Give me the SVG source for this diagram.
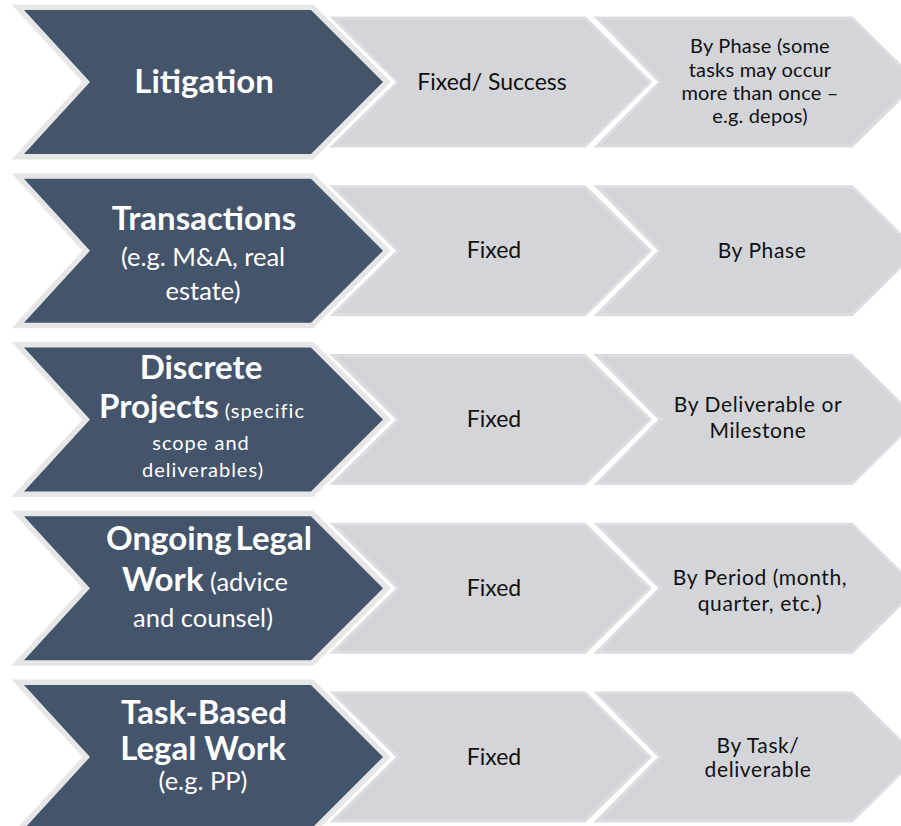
<svg xmlns="http://www.w3.org/2000/svg" width="901" height="826" viewBox="0 0 901 826">
  <style>
    .head { fill: #44546a; stroke: #e6e6e6; stroke-width: 11; paint-order: stroke; stroke-linejoin: miter; }
    .cell { fill: #d4d5d9; stroke: #dcdde0; stroke-width: 3; }
    .t { font-family: Lato, "Open Sans", "Liberation Sans", sans-serif; text-anchor: middle; }
    .w { fill: #ffffff; }
    .k { fill: #111111; }
    .b { font-weight: 700; font-size: 33px; }
    .r { font-size: 25.5px; }
    .m { font-size: 23px; }
    .s { font-size: 21px; letter-spacing: 0.6px; }
    .s1 { font-size: 20px; letter-spacing: 0.2px; }
    .n { font-size: 20px; letter-spacing: 1px; }
  </style>
  <defs>
    <!-- chevron outlines, one row high; rows are shifted with translate -->
    <polygon id="head-shape" points="24,10 311,10 383,82 311,154 24,154 90,82"/>
    <polygon id="mid-shape" points="333,18 585,18 650,82 585,146 333,146 398,82"/>
    <polygon id="end-shape" points="597,18 852,18 917,82 852,146 597,146 660,82"/>
  </defs>
  <rect width="901" height="826" fill="#ffffff"/>

  <!-- Row 1 -->
  <g id="row1">
    <g id="r1-end"><use href="#end-shape" class="cell"/>
      <text class="t k s1"><tspan x="760" y="53">By Phase (some</tspan><tspan x="760" y="77">tasks may occur</tspan><tspan x="760" y="100">more than once –</tspan><tspan x="760" y="123">e.g. depos)</tspan></text></g>
    <g id="r1-mid"><use href="#mid-shape" class="cell"/>
      <text class="t k m" x="492" y="90">Fixed/ Success</text></g>
    <g id="r1-head"><use href="#head-shape" class="head"/>
      <text class="t w b" x="204" y="93">Litigation</text></g>
  </g>

  <!-- Row 2 -->
  <g id="row2">
    <g id="r2-end"><use href="#end-shape" class="cell" transform="translate(0,168.75)"/>
      <text class="t k s" x="762" y="258">By Phase</text></g>
    <g id="r2-mid"><use href="#mid-shape" class="cell" transform="translate(0,168.75)"/>
      <text class="t k m" x="494" y="258">Fixed</text></g>
    <g id="r2-head"><use href="#head-shape" class="head" transform="translate(0,168.75)"/>
      <text class="t w"><tspan class="b" x="204" y="230">Transactions</tspan><tspan class="r" x="203" y="266">(e.g. M&amp;A, real</tspan><tspan class="r" x="203" y="300">estate)</tspan></text></g>
  </g>

  <!-- Row 3 -->
  <g id="row3">
    <g id="r3-end"><use href="#end-shape" class="cell" transform="translate(0,337.5)"/>
      <text class="t k s"><tspan x="758" y="412">By Deliverable or</tspan><tspan x="758" y="438">Milestone</tspan></text></g>
    <g id="r3-mid"><use href="#mid-shape" class="cell" transform="translate(0,337.5)"/>
      <text class="t k m" x="494" y="427">Fixed</text></g>
    <g id="r3-head"><use href="#head-shape" class="head" transform="translate(0,337.5)"/>
      <text class="t w"><tspan class="b" x="201" y="379">Discrete</tspan><tspan x="202" y="418"><tspan class="b">Projects</tspan><tspan class="n"> (specific</tspan></tspan><tspan class="n" x="201" y="450">scope and</tspan><tspan class="n" x="203" y="477">deliverables)</tspan></text></g>
  </g>

  <!-- Row 4 -->
  <g id="row4">
    <g id="r4-end"><use href="#end-shape" class="cell" transform="translate(0,506.25)"/>
      <text class="t k s"><tspan x="760" y="585">By Period (month,</tspan><tspan x="760" y="611">quarter, etc.)</tspan></text></g>
    <g id="r4-mid"><use href="#mid-shape" class="cell" transform="translate(0,506.25)"/>
      <text class="t k m" x="494" y="596">Fixed</text></g>
    <g id="r4-head"><use href="#head-shape" class="head" transform="translate(0,506.25)"/>
      <text class="t w"><tspan class="b" x="209" y="550" font-size="32" word-spacing="-4">Ongoing Legal</tspan><tspan x="205" y="591"><tspan class="b">Work</tspan><tspan class="r"> (advice</tspan></tspan><tspan class="r" x="203" y="627">and counsel)</tspan></text></g>
  </g>

  <!-- Row 5 -->
  <g id="row5">
    <g id="r5-end"><use href="#end-shape" class="cell" transform="translate(0,675)"/>
      <text class="t k s"><tspan x="758" y="753">By Task/</tspan><tspan x="758" y="777">deliverable</tspan></text></g>
    <g id="r5-mid"><use href="#mid-shape" class="cell" transform="translate(0,675)"/>
      <text class="t k m" x="494" y="765">Fixed</text></g>
    <g id="r5-head"><use href="#head-shape" class="head" transform="translate(0,675)"/>
      <text class="t w"><tspan class="b" x="204" y="724">Task-Based</tspan><tspan class="b" x="203" y="760">Legal Work</tspan><tspan class="r" x="203" y="790">(e.g. PP)</tspan></text></g>
  </g>
</svg>
